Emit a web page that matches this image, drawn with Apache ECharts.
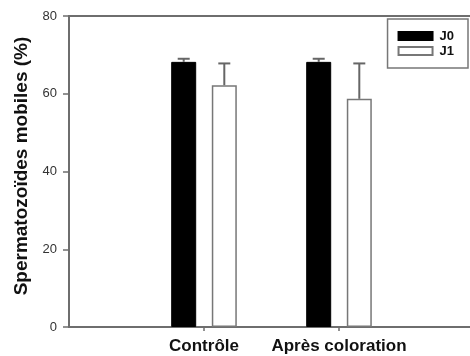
<!DOCTYPE html>
<html>
<head>
<meta charset="utf-8">
<script src="https://cdn.jsdelivr.net/npm/echarts@6/dist/echarts.min.js"></script>
<style>
html,body{margin:0;padding:0;background:#fff;}
#chart{width:470px;height:356px;}
</style>
</head>
<body>
<div id="chart"></div>
<script>
// Data
const categories = ['', 'Contrôle', 'Après coloration', ''];
const seriesNames = ['J0', 'J1'];
const j0Values = [null, 68.2, 68.2, null];
const j1Values = [null, 62.2, 58.7, null];
const j0Errors = [null, 0.8, 0.8, null];
const j1Errors = [null, 5.6, 9.1, null];
const yTicks = { min: 0, max: 80, interval: 20 };

const FONT = '"Liberation Sans", Arial, sans-serif';
const BAR_W = 25;
const BAR_GAP_PX = 15.6;
const OFFSET = (BAR_W + BAR_GAP_PX) / 2;

function errData(vals, errs) {
  const out = [];
  for (let i = 0; i < vals.length; i++) {
    if (vals[i] != null) out.push([i, vals[i], errs[i]]);
  }
  return out;
}

function errRender(offset) {
  return function (params, api) {
    const c = api.value(0), v = api.value(1), e = api.value(2);
    const base = api.coord([c, v]);
    const top = api.coord([c, v + e]);
    const x = base[0] + offset;
    const half = 6;
    const st = { stroke: '#666', lineWidth: 2 };
    return {
      type: 'group',
      children: [
        { type: 'line', shape: { x1: x, y1: base[1], x2: x, y2: top[1] }, style: st },
        { type: 'line', shape: { x1: x - half, y1: top[1], x2: x + half, y2: top[1] }, style: st }
      ]
    };
  };
}

const chart = echarts.init(document.getElementById('chart'), null, { renderer: 'canvas' });
chart.setOption({
  animation: false,
  backgroundColor: '#fff',
  textStyle: { fontFamily: FONT },
  grid: { left: 69, width: 405, top: 16, bottom: 29, outerBoundsMode: 'none', containLabel: false },
  legend: {
    data: seriesNames,
    orient: 'vertical',
    right: 2,
    top: 19,
    icon: 'rect',
    itemWidth: 34,
    itemHeight: 8,
    itemGap: 1,
    padding: [10, 14, 10, 10],
    borderColor: '#777',
    borderWidth: 1.5,
    textStyle: { fontFamily: FONT, fontWeight: 'bold', fontSize: 13, color: '#111', lineHeight: 14, padding: [0, 0, 0, 2] }
  },
  xAxis: [
    {
      type: 'category',
      data: categories,
      boundaryGap: false,
      axisLine: { show: true, lineStyle: { color: '#6e6e6e', width: 2 } },
      axisTick: { show: true, length: 4, lineStyle: { color: '#6e6e6e', width: 1.5 },
        interval: function (i) { return i === 1 || i === 2; } },
      axisLabel: { fontFamily: FONT, fontWeight: 'bold', fontSize: 17, color: '#111', margin: 11,
        interval: 0 },
      splitLine: { show: false }
    },
    {
      type: 'category',
      data: categories,
      position: 'top',
      boundaryGap: false,
      axisLine: { show: true, lineStyle: { color: '#6e6e6e', width: 2 } },
      axisTick: { show: false },
      axisLabel: { show: false },
      splitLine: { show: false }
    }
  ],
  yAxis: {
    type: 'value',
    min: yTicks.min,
    max: yTicks.max,
    interval: yTicks.interval,
    name: 'Spermatozoïdes mobiles (%)',
    nameLocation: 'middle',
    nameGap: 34,
    nameTextStyle: { fontFamily: FONT, fontWeight: 'bold', fontSize: 19, color: '#111', padding: [0, 0, 0, 11] },
    axisLine: { show: true, lineStyle: { color: '#6e6e6e', width: 2 } },
    axisTick: { show: true, length: 6, lineStyle: { color: '#6e6e6e', width: 1.5 } },
    axisLabel: { fontFamily: FONT, fontSize: 13, color: '#333', margin: 12 },
    splitLine: { show: false }
  },
  series: [
    {
      name: 'J0', type: 'bar', data: j0Values, barWidth: BAR_W,
      barGap: (BAR_GAP_PX / BAR_W * 100) + '%',
      itemStyle: { color: '#000', borderColor: '#000', borderWidth: 1 }
    },
    {
      name: 'J1', type: 'bar', data: j1Values, barWidth: BAR_W,
      barGap: (BAR_GAP_PX / BAR_W * 100) + '%',
      itemStyle: { color: '#fff', borderColor: '#777', borderWidth: 1.5 }
    },
    {
      type: 'custom', data: errData(j0Values, j0Errors), renderItem: errRender(-OFFSET),
      encode: { x: 0, y: 1 }, z: 5, silent: true
    },
    {
      type: 'custom', data: errData(j1Values, j1Errors), renderItem: errRender(OFFSET),
      encode: { x: 0, y: 1 }, z: 5, silent: true
    }
  ]
});
</script>
</body>
</html>
